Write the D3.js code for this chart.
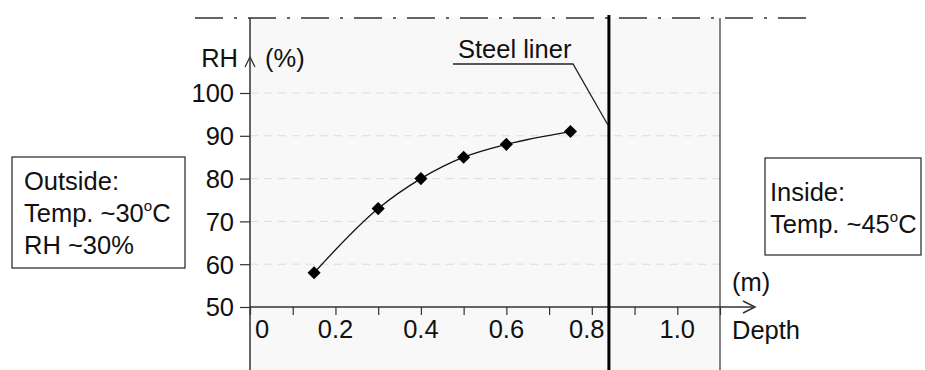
<!DOCTYPE html>
<html lang="en">
<head>
  <meta charset="utf-8" />
  <style>
    body { margin: 0; background: #fff; }
    text { font-family: "Liberation Sans", Arial, sans-serif; fill: #111; }
  </style>
</head>
<body>
<svg width="925" height="370"></svg>
<script src="https://d3js.org/d3.v7.min.js"></script>
<script>
var depth = [0.15, 0.3, 0.4, 0.5, 0.6, 0.75],
    rh = [58, 73, 80, 85, 88, 91],
    yTicks = [50, 60, 70, 80, 90, 100],
    xTicks = [0, 0.2, 0.4, 0.6, 0.8, 1.0],
    xTickLabels = ["0", "0.2", "0.4", "0.6", "0.8", "1.0"],
    linerDepth = 0.84;

var svg = d3.select("svg"),
    fs = 25.5;

var x = d3.scaleLinear().domain([0, 1.1]).range([250, 720]),
    y = d3.scaleLinear().domain([50, 100]).range([307, 93]);

// shaded wall section
svg.append("rect")
  .attr("x", x(0)).attr("y", 18)
  .attr("width", x(1.1) - x(0)).attr("height", 370 - 18)
  .attr("fill", "#f8f8f8");

// gridlines
svg.selectAll(".grid")
  .data(yTicks.slice(1))
  .enter().append("line")
  .attr("x1", x(0)).attr("x2", x(1.1))
  .attr("y1", function(d) { return y(d); })
  .attr("y2", function(d) { return y(d); })
  .attr("stroke", "#dcdcdc")
  .attr("stroke-dasharray", "8,6");

// top dash-dot line
svg.append("line")
  .attr("x1", 195).attr("x2", 810).attr("y1", 18).attr("y2", 18)
  .attr("stroke", "#333").attr("stroke-width", 1.5)
  .attr("stroke-dasharray", "28,11,3,11");

// right edge of wall
svg.append("line")
  .attr("x1", x(1.1)).attr("x2", x(1.1)).attr("y1", 18).attr("y2", 370)
  .attr("stroke", "#333").attr("stroke-width", 1.2);

// x axis
var xAxis = d3.axisBottom(x).tickValues(d3.range(0, 12).map(function(i) { return i / 10; }))
  .tickSize(8).tickFormat("");
var gx = svg.append("g").attr("transform", "translate(0," + y(50) + ")").call(xAxis);
gx.select(".domain").remove();
gx.selectAll("line").attr("stroke", "#333").attr("stroke-width", 1.2);
svg.append("line")
  .attr("x1", x(0)).attr("x2", 755).attr("y1", y(50)).attr("y2", y(50))
  .attr("stroke", "#333").attr("stroke-width", 1.5);
svg.append("path")
  .attr("d", "M743," + (y(50) - 6) + "L755," + y(50) + "L743," + (y(50) + 6))
  .attr("fill", "none").attr("stroke", "#333").attr("stroke-width", 1.5);

svg.selectAll(".xl")
  .data(xTicks)
  .enter().append("text")
  .attr("x", function(d, i) {
    if (i === 0) return x(d) + 12;
    if (i === 4) return x(d) - 5;
    return x(d);
  })
  .attr("y", 338)
  .attr("text-anchor", "middle")
  .attr("font-size", fs)
  .text(function(d, i) { return xTickLabels[i]; });

// y axis
var yAxis = d3.axisLeft(y).tickValues(yTicks).tickSize(10).tickPadding(6);
var gy = svg.append("g").attr("transform", "translate(" + x(0) + ",0)").call(yAxis);
gy.select(".domain").remove();
gy.selectAll("line").attr("stroke", "#333").attr("stroke-width", 1.2);
gy.selectAll("text").attr("font-size", fs).attr("font-family", "Liberation Sans, Arial, sans-serif")
  .attr("fill", "#111").attr("dy", "0.35em");
svg.append("line")
  .attr("x1", x(0)).attr("x2", x(0)).attr("y1", 18).attr("y2", 370)
  .attr("stroke", "#333").attr("stroke-width", 1.5);
svg.append("path")
  .attr("d", "M" + (x(0) - 5) + ",67L" + x(0) + ",57L" + (x(0) + 5) + ",67")
  .attr("fill", "none").attr("stroke", "#333").attr("stroke-width", 1.3);

svg.append("text").attr("x", 238).attr("y", 67).attr("text-anchor", "end")
  .attr("font-size", fs).text("RH");
svg.append("text").attr("x", 265).attr("y", 67)
  .attr("font-size", fs).text("(%)");
svg.append("text").attr("x", 732).attr("y", 291)
  .attr("font-size", fs).text("(m)");
svg.append("text").attr("x", 732).attr("y", 339)
  .attr("font-size", fs).text("Depth");

// steel liner
svg.append("line")
  .attr("x1", x(linerDepth)).attr("x2", x(linerDepth)).attr("y1", 15).attr("y2", 370)
  .attr("stroke", "#000").attr("stroke-width", 3);
svg.append("text").attr("x", 458).attr("y", 58)
  .attr("font-size", fs).text("Steel liner");
svg.append("path")
  .attr("d", "M453,64L573,64L" + (x(linerDepth) - 1) + ",125")
  .attr("fill", "none").attr("stroke", "#222").attr("stroke-width", 1.3);

// data curve
var line = d3.line()
  .x(function(d, i) { return x(depth[i]); })
  .y(function(d) { return y(d); })
  .curve(d3.curveMonotoneX);
svg.append("path")
  .datum(rh)
  .attr("d", line)
  .attr("fill", "none").attr("stroke", "#111").attr("stroke-width", 1.3);

svg.selectAll(".pt")
  .data(rh)
  .enter().append("path")
  .attr("d", d3.symbol().type(d3.symbolDiamond2).size(110))
  .attr("transform", function(d, i) { return "translate(" + x(depth[i]) + "," + y(d) + ")"; })
  .attr("fill", "#000");

// outside box
svg.append("rect").attr("x", 12).attr("y", 157).attr("width", 173).attr("height", 111)
  .attr("fill", "#fff").attr("stroke", "#222").attr("stroke-width", 1.2);
svg.append("text").attr("x", 24).attr("y", 190).attr("font-size", fs).text("Outside:");
var t1 = svg.append("text").attr("x", 24).attr("y", 222).attr("font-size", fs);
t1.append("tspan").text("Temp. ~30");
t1.append("tspan").attr("font-size", 15).attr("dy", -11).text("o");
t1.append("tspan").attr("dy", 11).text("C");
svg.append("text").attr("x", 24).attr("y", 254).attr("font-size", fs).text("RH ~30%");

// inside box
svg.append("rect").attr("x", 765).attr("y", 158).attr("width", 156).attr("height", 97)
  .attr("fill", "#fff").attr("stroke", "#222").attr("stroke-width", 1.2);
svg.append("text").attr("x", 770).attr("y", 201).attr("font-size", fs).text("Inside:");
var t2 = svg.append("text").attr("x", 770).attr("y", 233).attr("font-size", fs);
t2.append("tspan").text("Temp. ~45");
t2.append("tspan").attr("font-size", 15).attr("dy", -11).text("o");
t2.append("tspan").attr("dy", 11).text("C");
</script>
</body>
</html>
